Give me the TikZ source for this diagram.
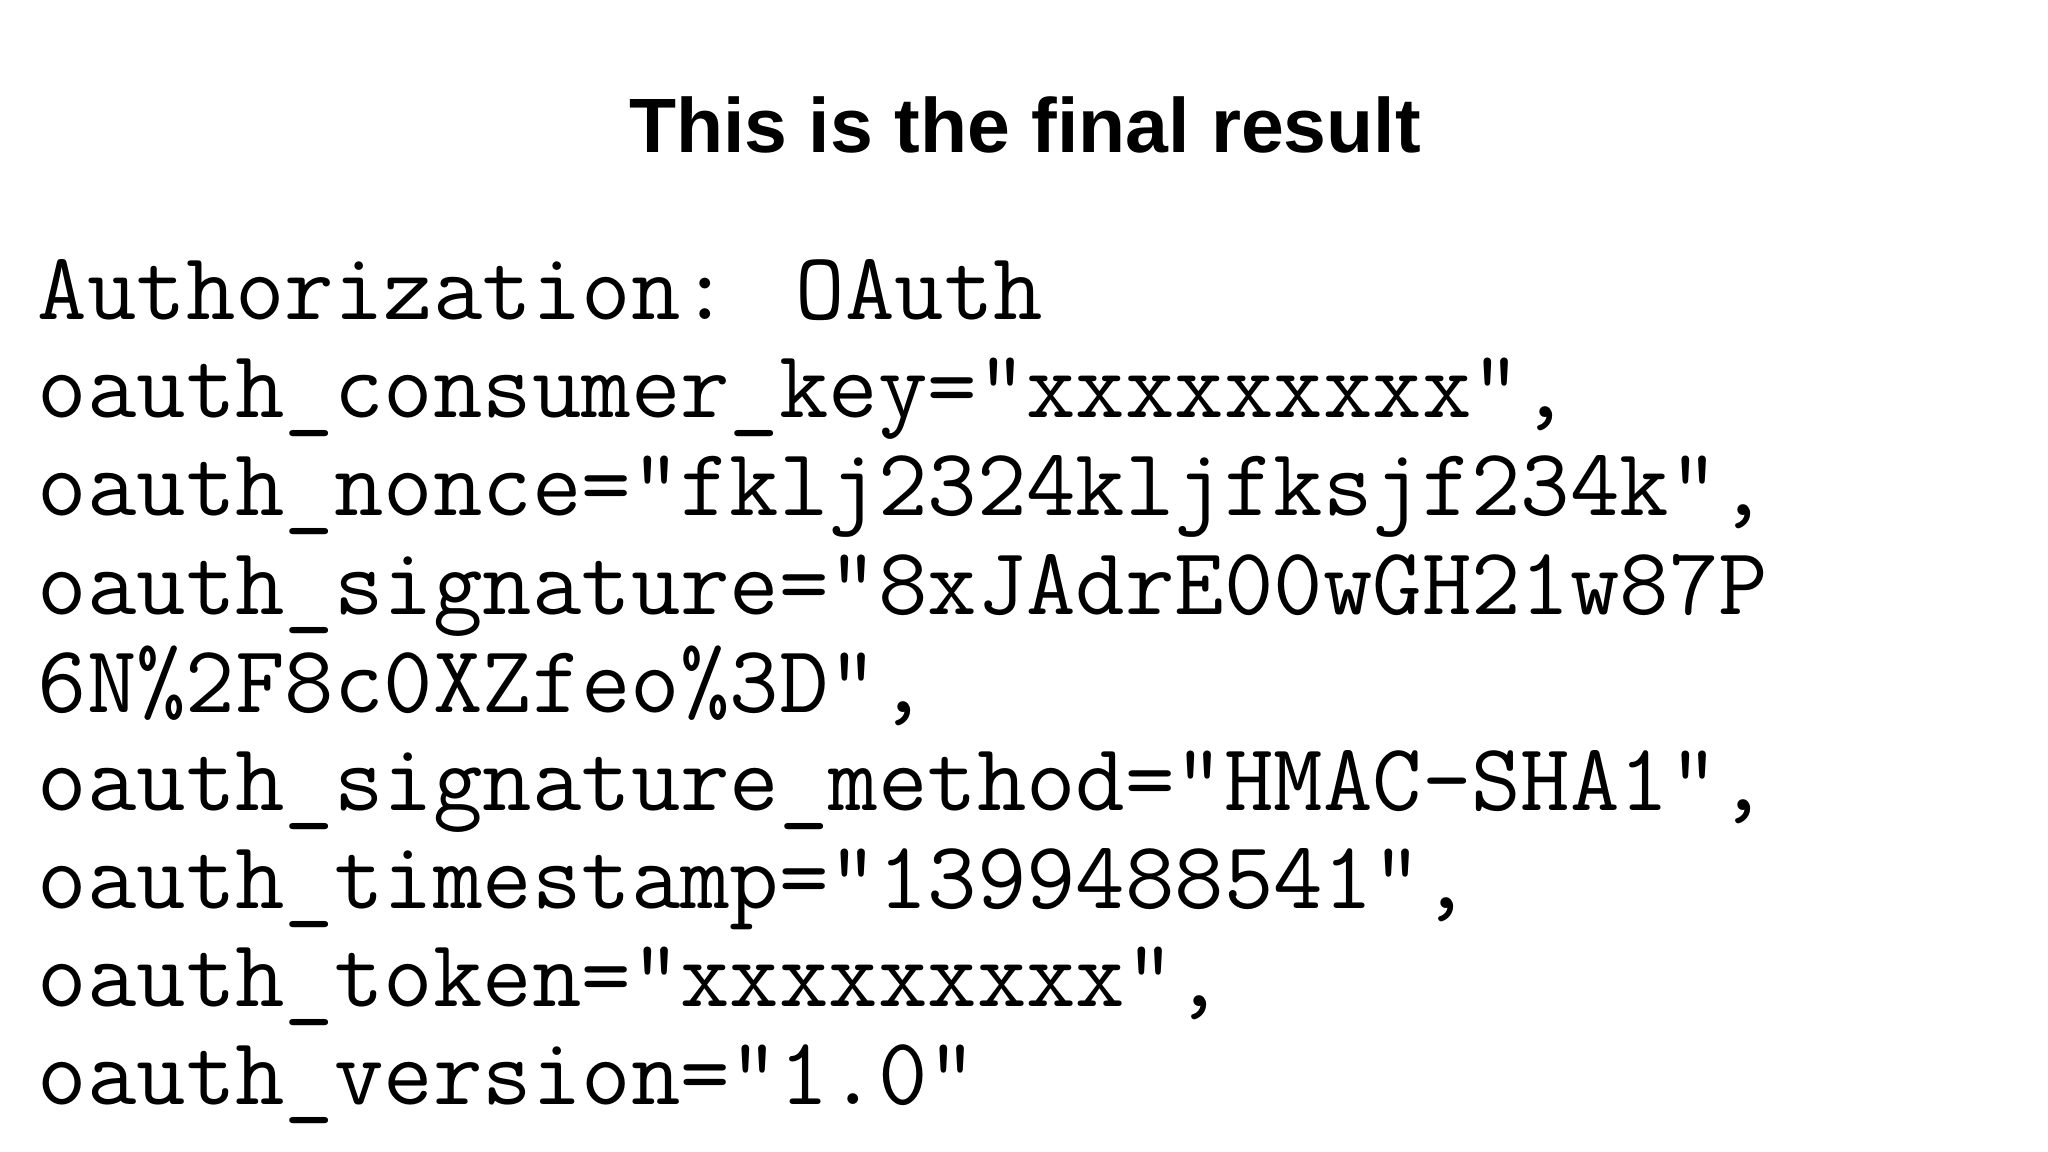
\documentclass[tikz,border=0pt]{standalone}
\usepackage{fontspec}
\setmainfont{Liberation Sans}
\begin{document}
\begin{tikzpicture}[x=0.01cm,y=-0.01cm,
  code/.style={anchor=base west,inner sep=0pt,font=\fontsize{27.3pt}{28pt}\ttfamily}]
\useasboundingbox[fill=white] (0,0) rectangle (2048,1152);
\node[anchor=base,inner sep=0pt,font=\fontsize{21.9pt}{28pt}\bfseries] (title) at (1025,153) {This is the final result};
\foreach \t [count=\i from 0] in {
 {Authorization: OAuth},
 {oauth\_consumer\_key="xxxxxxxxx",},
 {oauth\_nonce="fklj2324kljfksjf234k",},
 {oauth\_signature="8xJAdrE00wGH21w87P},
 {6N\%2F8c0XZfeo\%3D",},
 {oauth\_signature\_method="HMAC-SHA1",},
 {oauth\_timestamp="1399488541",},
 {oauth\_token="xxxxxxxxx",},
 {oauth\_version="1.0"}}
 \node[code] (l\i) at (37,{320+98*\i}) {\t};
\end{tikzpicture}
\end{document}
